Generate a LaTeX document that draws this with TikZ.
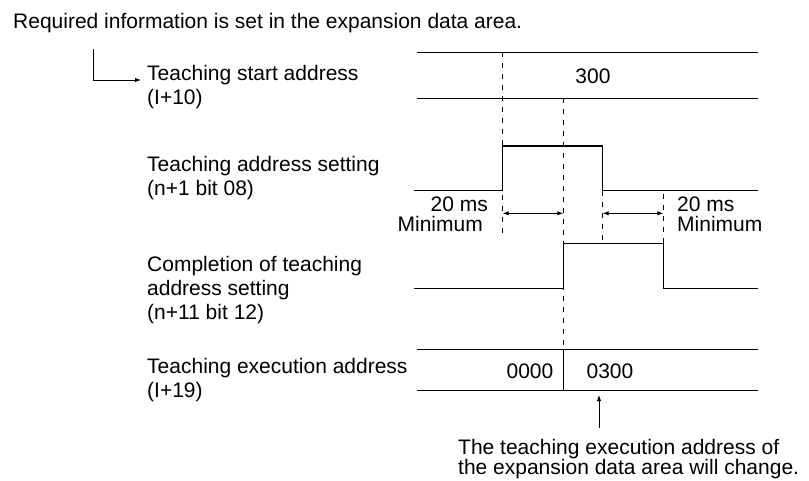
\documentclass[tikz,border=0pt]{standalone}
\usepackage{fontspec}
\setmainfont{Liberation Sans}
\usetikzlibrary{arrows.meta,positioning}

\begin{document}
\begin{tikzpicture}[x=1pt, y=-1pt, >={Latex[length=6pt,width=4.5pt]},
    lbl/.style={inner sep=0pt, align=left, font=\fontsize{21}{24}\selectfont},
    note/.style={inner sep=0pt, font=\fontsize{21}{20}\selectfont},
    sig/.style={line width=1.1pt},
    bus/.style={line width=1pt},
    guide/.style={line width=0.9pt, dash pattern=on 5pt off 6pt},
    span/.style={<->, line width=0.9pt}]
  \useasboundingbox (0,0) rectangle (809,481);

  % signal names
  \node[lbl, anchor=west] (req) at (13,23) {Required information is set in the expansion data area.};
  \node[lbl, anchor=west] (start) at (147,87.5) {Teaching start address\\(I+10)};
  \node[lbl, anchor=west] (setting) at (147,178.5) {Teaching address setting\\(n+1 bit 08)};
  \node[lbl, anchor=west] (done) at (147,290.5) {Completion of teaching\\address setting\\(n+11 bit 12)};
  \node[lbl, anchor=west] (exec) at (147,380) {Teaching execution address\\(I+19)};

  \coordinate (brk) at (93.3,49.3);
  \coordinate (brktip) at (141,80);
  \draw[->, line width=0.9pt] (brk) |- (brktip);

  % teaching start address
  \draw[bus] (416.7,52.3) -- (758,52.3);
  \draw[bus] (416.7,98.3) -- (758,98.3);
  \node[lbl] (v300) at (593,76) {300};

  % teaching address setting
  \draw[sig] (414,190.7) -- (502.7,190.7) -- (502.7,146) -- (602.7,146)
    -- (602.7,190.7) -- (758,190.7);

  % completion flag
  \draw[sig] (414,288.3) -- (563.3,288.3) -- (563.3,243.3) -- (663.3,243.3)
    -- (663.3,288.3) -- (758,288.3);

  % teaching execution address
  \draw[bus] (416.7,349.3) -- (758,349.3);
  \draw[bus] (416.7,390.7) -- (758,390.7);
  \draw[bus] (563.3,349.3) -- (563.3,390.7);
  \node[lbl] (v0000) at (530,371.7) {0000};
  \node[lbl] (v0300) at (610,371.7) {0300};

  % timing guides
  \draw[guide] (502.7,52.3) -- (502.7,233);
  \draw[guide] (563.3,98.3) -- (563.3,349.3);
  \draw[guide] (602.7,190.7) -- (602.7,243.3);
  \draw[guide] (663.3,194) -- (663.3,243.3);

  \draw[span] (502.7,213.3) -- (563.3,213.3);
  \draw[span] (602.7,213.3) -- (663.3,213.3);
  \node[note, align=right, anchor=east] (minl) at (488,214.5) {20 ms\\Minimum\kern5pt};
  \node[note, align=left, anchor=west] (minr) at (677,214.5) {20 ms\\Minimum};

  % note below
  \node[note, align=left, anchor=west] (chg) at (458,459) {The teaching execution address of\\the expansion data area will change.};
  \coordinate (chgtip) at (599,395);
  \draw[->, line width=0.9pt] (chgtip |- chg.north) ++(0,-11) -- (chgtip);
\end{tikzpicture}
\end{document}
